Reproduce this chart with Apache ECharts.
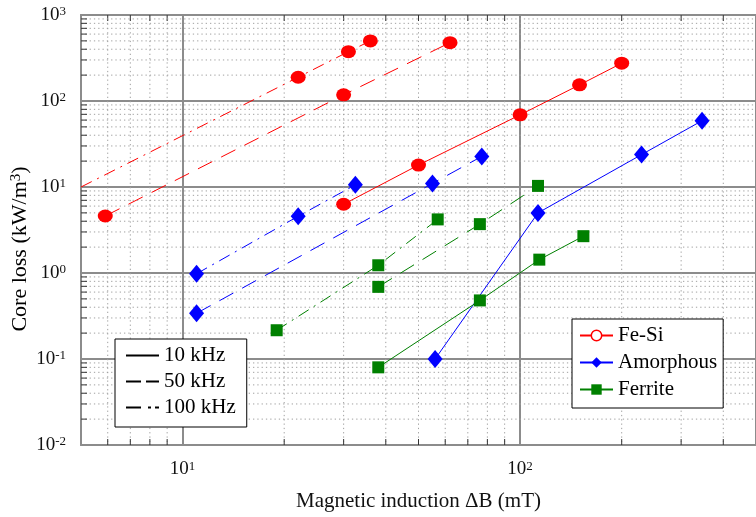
<!DOCTYPE html>
<html>
<head>
<meta charset="utf-8">
<title>Core loss</title>
<script src="https://cdn.jsdelivr.net/npm/echarts@6/dist/echarts.min.js"></script>
<style>
  html, body { margin: 0; padding: 0; background: #fff; }
  #chart { width: 756px; height: 517px; }
</style>
</head>
<body>
<div id="chart"></div>
<script>
// Fe-Si
var fesi10x = [30, 50, 100, 150, 200];
var fesi10y = [6.3, 18, 69, 154, 275];
var fesi50x = [5.9, 30, 62];
var fesi50y = [4.6, 118, 477];
var fesi100x = [5, 22, 31, 36];
var fesi100y = [10, 189, 375, 499];
// Amorphous
var amo10x = [56, 113, 229, 346];
var amo10y = [0.1, 5.0, 23.8, 59];
var amo50x = [11, 55, 77];
var amo50y = [0.34, 11, 22.7];
var amo100x = [11, 22, 32.5];
var amo100y = [0.98, 4.57, 10.6];
// Ferrite
var fer10x = [38, 76, 114, 154];
var fer10y = [0.08, 0.48, 1.43, 2.68];
var fer50x = [38, 76, 113];
var fer50y = [0.69, 3.7, 10.3];
var fer100x = [19, 38, 57];
var fer100y = [0.216, 1.23, 4.2];

var freqNames = ['10 kHz', '50 kHz', '100 kHz'];

// minor grid positions (log decades)
var xMinor = [6, 7, 8, 9, 20, 30, 40, 50, 60, 70, 80, 90, 200, 300, 400];
var yMinor = [
  0.02, 0.03, 0.04, 0.05, 0.06, 0.07, 0.08, 0.09,
  0.2, 0.3, 0.4, 0.5, 0.6, 0.7, 0.8, 0.9,
  2, 3, 4, 5, 6, 7, 8, 9,
  20, 30, 40, 50, 60, 70, 80, 90,
  200, 300, 400, 500, 600, 700, 800, 900
];

var FONT = 'Liberation Serif';
var RED = '#ff0000';
var BLUE = '#0000ff';
var GREEN = '#008000';
var DASH = [16, 10];
var DASHDOT = [12, 6, 2, 6];

function lineSeries(name, xs, ys, color, symbol, size, dash, noMarkFirst) {
  var data = xs.map(function (x, i) {
    if (noMarkFirst && i === 0) {
      return { value: [x, ys[i]], symbol: 'none' };
    }
    return [x, ys[i]];
  });
  return {
    name: name,
    type: 'line',
    data: data,
    symbol: symbol,
    symbolSize: size,
    lineStyle: { color: color, width: 1, type: dash },
    itemStyle: { color: color },
    emphasis: { disabled: true },
    z: 5
  };
}

// empty series, only used for the line-style legend
function styleSeries(name, dash) {
  return {
    name: name,
    type: 'line',
    data: [],
    symbol: 'none',
    lineStyle: { color: '#000', width: 1.2, type: dash },
    itemStyle: { color: '#000' }
  };
}

function powLabel(v) {
  var e = Math.round(Math.log10(v));
  return '{b|10}{s|' + e + '}';
}

var labelRich = {
  b: { fontFamily: FONT, fontSize: 19, color: '#111' },
  s: { fontFamily: FONT, fontSize: 13, color: '#111', verticalAlign: 'top' }
};

var yMin = 0.01, yMax = 1000;

function renderXMinor(params, api) {
  var v = api.value(0);
  var top = api.coord([v, yMax]);
  var bot = api.coord([v, yMin]);
  return {
    type: 'group',
    children: [
      { type: 'line', shape: { x1: top[0], y1: top[1], x2: bot[0], y2: bot[1] },
        style: { stroke: '#a0a0a0', lineWidth: 1, lineDash: [1.3, 3] } },
      { type: 'line', shape: { x1: bot[0], y1: bot[1], x2: bot[0], y2: bot[1] - 6 },
        style: { stroke: '#333', lineWidth: 1 } },
      { type: 'line', shape: { x1: top[0], y1: top[1], x2: top[0], y2: top[1] + 6 },
        style: { stroke: '#333', lineWidth: 1 } }
    ]
  };
}

function renderYMinor(params, api) {
  var v = api.value(1);
  var l = api.coord([5, v]);
  var r = api.coord([500, v]);
  return {
    type: 'group',
    children: [
      { type: 'line', shape: { x1: l[0], y1: l[1], x2: r[0], y2: r[1] },
        style: { stroke: '#a0a0a0', lineWidth: 1, lineDash: [1.3, 3] } },
      { type: 'line', shape: { x1: l[0], y1: l[1], x2: l[0] + 6, y2: l[1] },
        style: { stroke: '#333', lineWidth: 1 } }
    ]
  };
}

var chart = echarts.init(document.getElementById('chart'));

var noMark = { color: 'rgba(0,0,0,0)', borderWidth: 0 };

var option = {
  animation: false,
  backgroundColor: '#fff',
  textStyle: { fontFamily: FONT },
  grid: {
    left: 81, top: 15, width: 679, height: 431,
    show: true, borderColor: '#3a3a3a', borderWidth: 1.5
  },
  xAxis: {
    type: 'log', logBase: 10, min: 5, max: 500,
    name: 'Magnetic induction \u0394B (mT)',
    nameLocation: 'middle', nameGap: 46,
    nameTextStyle: { fontFamily: FONT, fontSize: 21, color: '#111' },
    axisLine: { show: false },
    axisTick: { show: false },
    axisLabel: {
      margin: 15, showMinLabel: false, showMaxLabel: false,
      formatter: powLabel, rich: labelRich
    },
    splitLine: { show: true, lineStyle: { color: '#8c8c8c', width: 2 } }
  },
  yAxis: {
    type: 'log', logBase: 10, min: yMin, max: yMax,
    axisLine: { show: false },
    axisTick: { show: false },
    axisLabel: { margin: 15, formatter: powLabel, rich: labelRich },
    splitLine: { show: true, lineStyle: { color: '#8c8c8c', width: 2 } }
  },
  graphic: [{
    type: 'text', x: 20, y: 249, rotation: Math.PI / 2,
    style: {
      text: '{b|Core loss (kW/m}{s|3}{b|)}',
      align: 'center', verticalAlign: 'middle',
      rich: {
        b: { fontFamily: FONT, fontSize: 22, color: '#111' },
        s: { fontFamily: FONT, fontSize: 15, color: '#111', verticalAlign: 'top' }
      }
    }
  }],
  legend: [{
    data: freqNames.map(function (n) { return { name: n, itemStyle: noMark }; }),
    orient: 'vertical', left: 115, top: 339,
    itemWidth: 33, itemHeight: 14, itemGap: 5,
    padding: [6, 11, 9, 10],
    borderColor: '#000', borderWidth: 1, backgroundColor: '#fff',
    selectedMode: false,
    textStyle: { fontFamily: FONT, fontSize: 21, lineHeight: 21, color: '#000' }
  }, {
    data: [
      { name: 'Fe-Si', itemStyle: { color: '#fff', borderColor: RED, borderWidth: 1.5 } },
      'Amorphous',
      'Ferrite'
    ],
    orient: 'vertical', left: 572, top: 319,
    itemWidth: 33, itemHeight: 13, itemGap: 6,
    padding: [6, 6, 8, 7],
    borderColor: '#000', borderWidth: 1, backgroundColor: '#fff',
    selectedMode: false,
    textStyle: { fontFamily: FONT, fontSize: 21, lineHeight: 21, color: '#000' }
  }],
  series: [
    { type: 'custom', silent: true, z: 1, renderItem: renderXMinor,
      data: xMinor.map(function (v) { return [v, 1]; }) },
    { type: 'custom', silent: true, z: 1, renderItem: renderYMinor,
      data: yMinor.map(function (v) { return [10, v]; }) },
    lineSeries('Fe-Si', fesi10x, fesi10y, RED, 'circle', [15, 13], 'solid'),
    lineSeries('Fe-Si', fesi50x, fesi50y, RED, 'circle', [15, 13], DASH),
    lineSeries('Fe-Si', fesi100x, fesi100y, RED, 'circle', [15, 13], DASHDOT, true),
    lineSeries('Amorphous', amo10x, amo10y, BLUE, 'diamond', [15, 18], 'solid'),
    lineSeries('Amorphous', amo50x, amo50y, BLUE, 'diamond', [15, 18], DASH),
    lineSeries('Amorphous', amo100x, amo100y, BLUE, 'diamond', [15, 18], DASHDOT),
    lineSeries('Ferrite', fer10x, fer10y, GREEN, 'rect', 12, 'solid'),
    lineSeries('Ferrite', fer50x, fer50y, GREEN, 'rect', 12, DASH),
    lineSeries('Ferrite', fer100x, fer100y, GREEN, 'rect', 12, DASHDOT),
    styleSeries('10 kHz', 'solid'),
    styleSeries('50 kHz', [15, 5]),
    styleSeries('100 kHz', [15, 7, 3, 4])
  ]
};

chart.setOption(option);
</script>
</body>
</html>
